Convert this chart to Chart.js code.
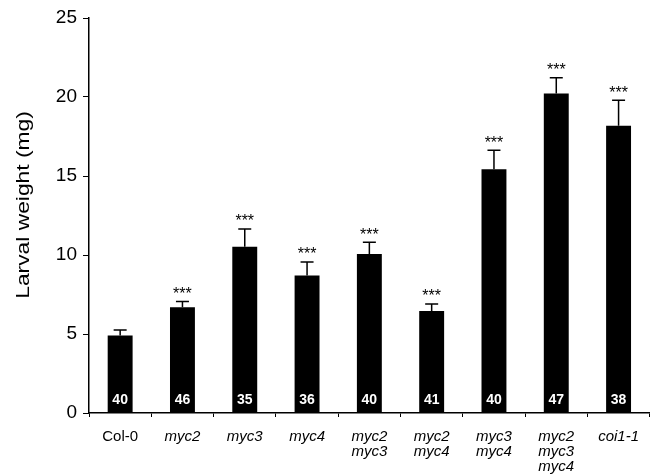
<!DOCTYPE html>
<html>
<head>
<meta charset="utf-8">
<script src="https://cdn.jsdelivr.net/npm/chart.js@4.4.1/dist/chart.umd.min.js"></script>
<style>
    html, body { margin: 0; padding: 0; background: #fff; }
    #wrap { width: 651px; height: 475px; position: relative; }
</style>
</head>
<body>
<div id="wrap"><canvas id="weightChart"></canvas></div>
<script>
// Larval weight per genotype
const categories = [['Col-0'], ['myc2'], ['myc3'], ['myc4'], ['myc2', 'myc3'], ['myc2', 'myc4'], ['myc3', 'myc4'], ['myc2', 'myc3', 'myc4'], ['coi1-1']];
const meanWeight = [4.9, 6.7, 10.53, 8.7, 10.06, 6.45, 15.42, 20.22, 18.18];
const errorUp = [0.35, 0.35, 1.12, 0.86, 0.74, 0.45, 1.21, 1.0, 1.61];
const sampleSize = [40, 46, 35, 36, 40, 41, 40, 47, 38];
const significance = ['', '***', '***', '***', '***', '***', '***', '***', '***'];
const yTicks = [0, 5, 10, 15, 20, 25];
const yTitle = 'Larval weight (mg)';

const FONT = "'Liberation Sans', Arial, sans-serif";

// Error bars, stars, n-labels and the (slightly stretched) y title
const annotations = {
    id: 'annotations',
    afterDatasetsDraw(chart) {
        const ctx = chart.ctx;
        const yScale = chart.scales.y;
        const bars = chart.getDatasetMeta(0).data;
        ctx.save();
        bars.forEach((bar, i) => {
            const top = yScale.getPixelForValue(meanWeight[i]);
            const cap = yScale.getPixelForValue(meanWeight[i] + errorUp[i]);
            ctx.strokeStyle = '#000';
            ctx.lineWidth = 1.5;
            ctx.beginPath();
            ctx.moveTo(bar.x, top);
            ctx.lineTo(bar.x, cap);
            ctx.moveTo(bar.x - 6.5, cap);
            ctx.lineTo(bar.x + 6.5, cap);
            ctx.stroke();

            ctx.fillStyle = '#000';
            ctx.textAlign = 'center';
            ctx.textBaseline = 'middle';
            ctx.font = '16px ' + FONT;
            if (significance[i]) ctx.fillText(significance[i], bar.x, cap - 7);

            ctx.fillStyle = '#fff';
            ctx.font = 'bold 14px ' + FONT;
            ctx.fillText(String(sampleSize[i]), bar.x, yScale.getPixelForValue(0) - 13);
        });

        ctx.translate(24, 205);
        ctx.rotate(-Math.PI / 2);
        ctx.scale(1.2, 1);
        ctx.fillStyle = '#000';
        ctx.font = '19px ' + FONT;
        ctx.fillText(yTitle, 0, 0);
        ctx.restore();
    }
};

new Chart(document.getElementById('weightChart'), {
    type: 'bar',
    data: {
        labels: categories,
        datasets: [{
            data: meanWeight,
            backgroundColor: '#000',
            borderWidth: 0,
            barPercentage: 0.4,
            categoryPercentage: 1
        }]
    },
    options: {
        responsive: true,
        maintainAspectRatio: false,
        animation: false,
        layout: { padding: { top: 18, right: 0, left: 0, bottom: 0 } },
        plugins: {
            legend: { display: false },
            tooltip: { enabled: false }
        },
        scales: {
            x: {
                afterFit: scale => { scale.height = 62; },
                border: { color: '#000', width: 1.5 },
                grid: {
                    offset: true,
                    drawOnChartArea: false,
                    tickLength: 4,
                    color: '#000'
                },
                ticks: {
                    color: '#000',
                    padding: 12,
                    autoSkip: false,
                    maxRotation: 0,
                    font: c => ({ family: FONT, size: 15, style: c.index === 0 ? 'normal' : 'italic', lineHeight: 1.0 })
                }
            },
            y: {
                min: 0,
                max: 25,
                afterFit: scale => { scale.width = 89; },
                afterBuildTicks: scale => { scale.ticks = yTicks.map(v => ({ value: v })); },
                border: { color: '#000', width: 1.5 },
                grid: {
                    drawOnChartArea: false,
                    tickLength: 6,
                    color: '#000'
                },
                ticks: {
                    color: '#000',
                    padding: 6,
                    font: { family: FONT, size: 19 }
                }
            }
        }
    },
    plugins: [annotations]
});
</script>
</body>
</html>
